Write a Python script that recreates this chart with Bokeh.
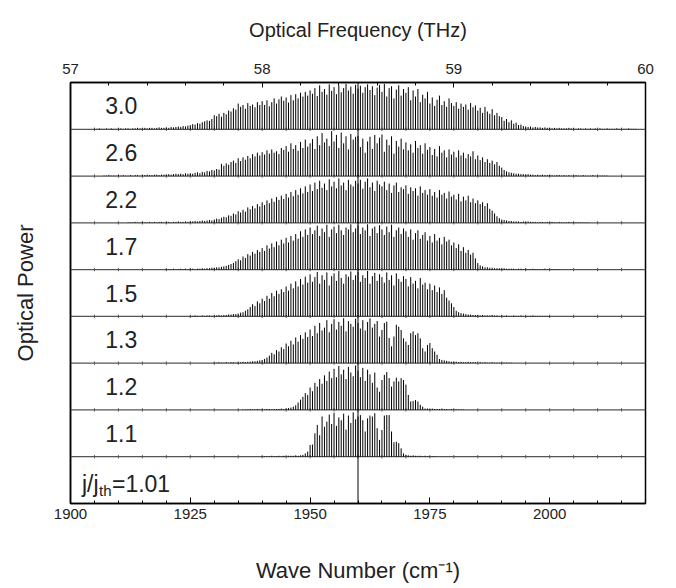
import numpy as np
from bokeh.plotting import figure
from bokeh.models import Range1d, LinearAxis, FixedTicker, Span, ColumnDataSource, Title
from bokeh.embed import file_html
from bokeh.resources import INLINE

FONT = "Liberation Sans"

# ---------------- data ----------------
# wave-number axis ticks and optical-frequency axis ticks
wn_ticks = [1900, 1925, 1950, 1975, 2000]
thz_ticks = [57, 58, 59, 60]

# Fabry-Perot mode spacing (cm^-1)
mode_spacing = 0.5

# panel labels (j/j_th), bottom to top above the threshold panel
panel_labels = ["1.1", "1.2", "1.3", "1.5", "1.7", "2.2", "2.6", "3.0"]
# first mode wave number of each listed spectrum
panel_start = [1940.0, 1936.0, 1930.0, 1925.0, 1920.0, 1912.0, 1907.0, 1905.0]

# relative mode powers (% of panel height)
power_1_1 = [1,1,1,1,2,1,1,2,1,2,1,2,
             2,2,3,2,3,4,7,11,
             25,26,50,68,46,86,64,75,90,70,
             94,66,84,78,92,58,88,72,95,80,86,
             89,78,54,82,88,86,93,61,36,57,88,89,89,54,31,32,29,18,7,4,
             3,2,3,2,2,2,1,2,1,1,1,1]
power_1_2 = [1,1,1,2,1,1,2,1,2,1,2,2,1,2,2,2,3,2,
             3,4,5,7,10,16,22,28,36,32,
             48,40,58,50,66,56,74,62,82,68,
             88,70,94,76,86,66,92,80,72,95,
             84,70,90,62,86,76,58,80,48,
             39,64,75,81,68,50,61,69,61,68,
             64,54,32,18,19,21,18,11,7,3,
             3,2,3,2,2,2,3,2,2,1,2,1,1,1,1,1]
power_1_3 = [1,1,2,1,1,2,1,2,2,1,2,2,3,2,3,3,
             4,4,5,6,
             7,9,12,16,22,19,28,25,34,30,
             42,36,48,40,55,46,60,52,66,56,
             72,58,80,64,86,70,76,92,66,84,
             94,72,88,80,96,68,90,84,78,95,
             86,74,92,70,88,96,76,84,90,57,
             71,86,89,54,36,57,82,78,71,53,
             46,39,64,68,60,64,53,32,25,39,
             43,32,25,18,9,7,6,5,4,3,
             3,3,2,3,2,2,3,2,2,2,
             1,2,1,2,1,1,2,1,1,1,1,1,1,1,1]
power_1_5 = [1,1,2,1,1,2,1,2,2,1,2,2,3,2,3,3,4,4,5,5,
             6,8,9,12,15,20,26,22,32,28,
             38,33,44,38,50,43,55,48,58,52,
             64,55,70,60,75,64,80,68,85,72,
             90,74,84,95,70,88,78,94,66,86,
             92,76,97,82,70,90,85,96,78,88,
             95,74,88,82,97,70,86,93,76,90,
             84,72,94,78,88,66,92,80,74,86,
             80,64,84,70,76,60,82,68,72,58,
             70,56,66,52,62,48,56,40,34,28,
             20,12,9,7,6,5,4,4,3,3,
             3,2,3,2,2,2,3,2,2,1,
             2,1,2,1,1,2,1,1,2,1,1,1,1,2,1,1,1,1,1,1,1]
power_1_7 = [1,1,1,2,1,1,2,1,2,1,2,2,1,2,2,3,2,3,3,4,
             4,5,5,6,7,8,10,12,14,18,
             22,20,28,25,33,30,38,34,42,38,
             46,40,52,45,56,48,60,52,64,56,
             68,58,72,62,76,66,82,70,86,74,
             90,76,84,94,72,88,80,96,70,86,
             92,78,96,84,74,90,86,97,80,88,
             94,76,90,84,97,72,88,92,78,95,
             86,74,92,80,96,70,84,90,76,88,
             82,70,86,64,78,84,66,74,80,62,
             72,58,76,62,68,54,70,60,64,52,
             58,46,54,40,48,36,42,32,36,24,
             14,9,7,5,5,4,4,3,3,3,
             2,3,2,2,2,2,1,2,2,1,
             2,1,1,2,1,1,1,1,2,1,1,1,1,1,1]
power_2_2 = [1,1,1,2,1,1,2,1,1,2,1,2,1,2,2,1,
             2,2,1,2,2,3,2,2,3,2,
             3,3,4,3,4,5,4,5,6,5,
             7,9,8,11,13,12,16,15,20,18,
             25,22,28,24,33,29,36,31,40,35,
             44,38,48,42,52,45,55,49,58,51,
             62,54,66,57,70,60,74,63,78,66,
             82,68,86,72,90,75,84,70,93,78,
             88,74,95,80,86,70,92,82,78,90,
             84,92,73,88,95,76,86,68,90,82,
             78,88,70,84,64,80,86,66,76,72,
             80,62,76,68,74,58,78,64,70,60,
             72,58,66,54,70,60,64,52,67,56,
             60,50,62,46,56,48,58,44,52,42,
             48,40,44,36,42,30,26,20,14,10,
             7,6,5,4,4,3,3,3,2,3,
             2,3,2,2,2,1,2,2,1,2,
             1,2,1,1,2,1,1,1,2,1,1,1,1,1,1,1,1]
power_2_6 = [1,1,2,1,1,1,2,1,2,1,1,2,1,2,2,1,
             2,2,3,2,2,3,3,2,3,3,
             3,4,3,4,5,4,5,4,6,5,
             6,5,7,8,6,9,8,11,10,13,
             12,15,14,26,22,27,24,30,33,28,
             38,32,40,35,43,38,47,42,50,44,
             51,46,55,48,57,50,53,47,60,56,
             64,52,70,58,66,54,73,60,78,63,
             70,79,58,85,66,92,72,80,64,96,
             74,88,60,93,70,85,57,90,78,84,
             86,62,80,50,74,84,58,88,70,82,
             89,52,78,66,85,48,75,63,80,57,
             72,55,68,50,75,60,66,48,70,56,
             62,45,58,42,64,50,55,40,57,46,
             52,40,55,44,50,38,47,42,53,36,
             44,34,40,30,36,28,33,25,30,22,
             18,13,10,8,7,6,5,5,4,4,
             3,4,3,3,2,3,2,3,2,2,
             2,2,1,2,2,1,2,1,2,1,
             1,2,1,1,2,1,1,1,2,1,1,1,1,1,1]
power_3_0 = [1,1,2,1,1,2,1,2,1,1,2,2,1,2,2,1,2,2,3,2,
             2,3,2,3,3,2,3,4,3,3,
             4,3,5,4,5,6,5,7,6,8,
             9,11,10,13,12,15,17,19,18,22,
             30,28,33,27,35,32,40,38,45,42,
             55,48,52,44,56,50,53,47,58,52,
             60,52,62,49,58,66,55,64,70,61,
             68,57,73,62,75,66,78,70,80,72,
             83,76,88,71,94,80,86,74,96,82,
             90,75,94,79,88,97,83,91,76,95,
             87,93,78,90,96,84,92,73,89,95,
             80,97,70,88,92,66,85,94,72,86,
             78,90,62,83,70,86,58,74,66,80,
             55,68,50,63,72,52,60,48,66,56,
             50,58,44,55,48,53,42,56,47,51,
             40,46,35,48,38,33,43,30,35,28,
             26,18,22,15,19,12,14,9,10,7,
             6,5,6,4,5,4,4,3,4,3,
             3,2,3,2,3,2,2,2,3,2,
             2,1,2,2,1,2,1,2,1,2,
             1,2,1,1,2,1,1,1,2,1,1,1,1,2,1,1,1]
panel_powers = [power_1_1, power_1_2, power_1_3, power_1_5,
                power_1_7, power_2_2, power_2_6, power_3_0]

# threshold spectrum: single mode
threshold_wn = [1960.0]
threshold_power = [100]

# ---------------- figure ----------------
p = figure(width=676, height=588, x_range=Range1d(1900, 2020), y_range=Range1d(0, 9),
           output_backend="svg", toolbar_location=None,
           x_axis_type=None, y_axis_type=None,
           min_border_left=70, min_border_right=31, min_border_top=82, min_border_bottom=85)
p.title.visible = False
p.xgrid.visible = False
p.ygrid.visible = False
p.outline_line_color = "black"
p.outline_line_width = 1.5
p.background_fill_color = "white"
p.border_fill_color = "white"
p.extra_x_ranges = {"thz": Range1d(57, 60)}

def style_axis(ax):
    ax.axis_line_color = "black"
    ax.axis_line_width = 1.5
    ax.major_tick_line_color = "black"
    ax.minor_tick_line_color = "black"
    ax.major_label_text_font = FONT
    ax.major_label_text_font_size = "15px"
    ax.major_label_text_color = "#222222"
    ax.axis_label_text_font = FONT
    ax.axis_label_text_font_style = "normal"
    ax.axis_label_text_font_size = "22px"
    ax.axis_label_text_color = "#222222"

minor_wn = list(range(1900, 2021, 5))
xb = LinearAxis(ticker=FixedTicker(ticks=wn_ticks, minor_ticks=minor_wn),
                axis_label="Wave Number (cm\u207b\u00b9)")
style_axis(xb)
xb.major_tick_in = 6
xb.major_tick_out = 0
xb.minor_tick_in = 3
xb.minor_tick_out = 0
xb.major_label_standoff = 5
xb.axis_label_standoff = 36
p.add_layout(xb, "below")

minor_thz = [round(57 + 0.2 * i, 1) for i in range(16)]
xt = LinearAxis(x_range_name="thz", ticker=FixedTicker(ticks=thz_ticks, minor_ticks=minor_thz))
style_axis(xt)
xt.major_tick_in = 5
xt.major_tick_out = 0
xt.minor_tick_in = 3
xt.minor_tick_out = 0
xt.major_label_standoff = 9
p.add_layout(xt, "above")

# top title (slightly left of the frame centre in the original)
p.add_layout(Title(text="Optical Frequency (THz)", align="center", offset=-19,
                   standoff=36, vertical_align="top", text_font=FONT, text_font_size="20px",
                   text_font_style="normal", text_color="#222222"), "above")

yl = LinearAxis(ticker=FixedTicker(ticks=[]), axis_label="Optical Power")
style_axis(yl)
yl.major_tick_out = 0
yl.major_label_standoff = 0
yl.axis_label_standoff = 33
p.add_layout(yl, "left")

# panel separators with small tick marks
for k in range(1, 9):
    p.line([1900, 2020], [k, k], line_color="#555555", line_width=1.2)
sep_x, sep_y0, sep_y1 = [], [], []
for k in range(1, 9):
    for xv in minor_wn[1:-1]:
        sep_x.append(xv)
        sep_y0.append(k - 0.035)
        sep_y1.append(k + 0.035)
p.segment(x0=sep_x, y0=sep_y0, x1=sep_x, y1=sep_y1, line_color="#555555", line_width=1)

# spectra
xs, y0s, y1s = [], [], []
for k, (start, powers) in enumerate(zip(panel_start, panel_powers), start=1):
    for i, v in enumerate(powers):
        xs.append(start + mode_spacing * i)
        y0s.append(k)
        y1s.append(k + v / 100.0)
src = ColumnDataSource(dict(x=xs, y0=y0s, y1=y1s))
p.segment(x0="x", y0="y0", x1="x", y1="y1", source=src, line_color="black", line_width=1)

# threshold: single lasing mode, line drawn through all panels
p.add_layout(Span(location=threshold_wn[0], dimension="height", line_color="black", line_width=1))

# panel labels
lab_src = ColumnDataSource(dict(x=[1910.6] * len(panel_labels),
                                y=[k + 0.5 for k in range(1, 9)],
                                t=panel_labels))
p.text(x="x", y="y", text="t", source=lab_src, text_font={"value": FONT},
       text_font_size={"value": "23px"}, text_align="center", text_baseline="middle",
       text_color="#222222")

# threshold label j/j_th=1.01
p.text(x=[1902.4], y=[0.41], text=["j/j"], text_font={"value": FONT},
       text_font_size={"value": "23px"}, text_align="left", text_baseline="alphabetic",
       text_color="#222222")
p.text(x=[1902.4 + 17 / 4.8], y=[0.41 - 6 / 46.8], text=["th"], text_font={"value": FONT},
       text_font_size={"value": "15px"}, text_align="left", text_baseline="alphabetic",
       text_color="#222222")
p.text(x=[1902.4 + 30 / 4.8], y=[0.41], text=["=1.01"], text_font={"value": FONT},
       text_font_size={"value": "23px"}, text_align="left", text_baseline="alphabetic",
       text_color="#222222")

open("out.html", "w").write(file_html(p, INLINE))
